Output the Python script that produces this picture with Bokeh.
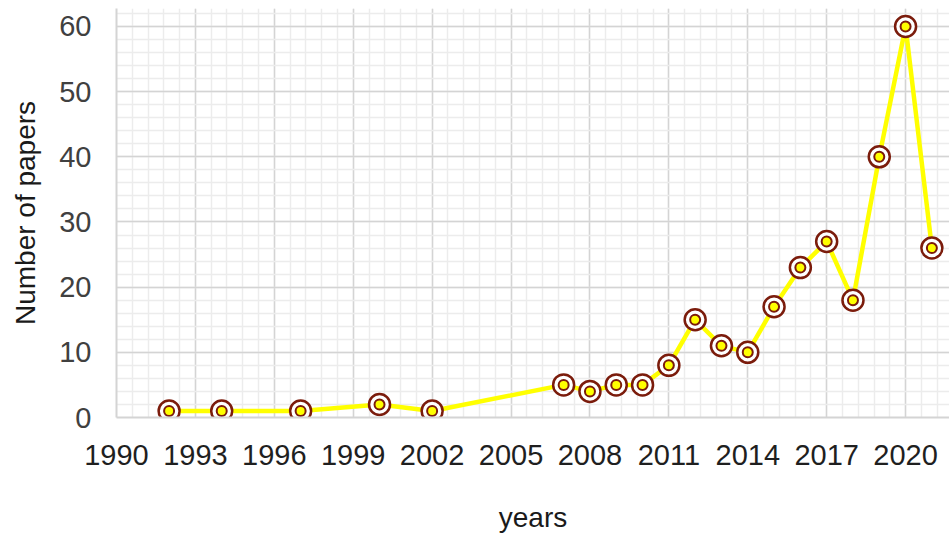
from bokeh.plotting import figure
from bokeh.models import FixedTicker, ColumnDataSource, Range1d
from bokeh.embed import file_html
from bokeh.resources import INLINE

years = [1992, 1994, 1997, 2000, 2002, 2007, 2008, 2009, 2010, 2011,
         2012, 2013, 2014, 2015, 2016, 2017, 2018, 2019, 2020, 2021]
papers = [1, 1, 1, 2, 1, 5, 4, 5, 5, 8,
          15, 11, 10, 17, 23, 27, 18, 40, 60, 26]

x_ticks = [1990, 1993, 1996, 1999, 2002, 2005, 2008, 2011, 2014, 2017, 2020]
y_ticks = [0, 10, 20, 30, 40, 50, 60]
x_minor = [round(1990 + 0.6 * i, 2) for i in range(0, 55)]
y_minor = list(range(0, 64, 2))

x_label = "years"
y_label = "Number of papers"

src = ColumnDataSource(dict(x=years, y=papers))

FONT = "Liberation Sans"
DARK_RED = "#7b1c0c"

p = figure(width=949, height=535, output_backend="svg", toolbar_location=None,
           x_range=Range1d(1990, 2021.67), y_range=Range1d(0, 62.76),
           min_border_left=116, min_border_right=0, min_border_top=8,
           min_border_bottom=118)
p.outline_line_color = None
p.background_fill_color = "white"

p.xaxis.ticker = FixedTicker(ticks=x_ticks, minor_ticks=x_minor)
p.yaxis.ticker = FixedTicker(ticks=y_ticks, minor_ticks=y_minor)

p.xgrid.grid_line_color = "#d4d4d4"
p.ygrid.grid_line_color = "#d4d4d4"
p.xgrid.grid_line_width = 1.5
p.ygrid.grid_line_width = 1.5
p.xgrid.minor_grid_line_color = "#ececec"
p.ygrid.minor_grid_line_color = "#ececec"
p.xgrid.minor_grid_line_width = 1.5
p.ygrid.minor_grid_line_width = 1.5

for ax in (p.xaxis, p.yaxis):
    ax.axis_line_color = "#d4d4d4"
    ax.axis_line_width = 2
    ax.major_tick_line_color = None
    ax.minor_tick_line_color = None
    ax.major_tick_out = 0
    ax.minor_tick_out = 0
    ax.major_label_text_font = FONT
    ax.major_label_text_font_size = "29px"
    ax.axis_label_text_font = FONT
    ax.axis_label_text_font_size = "28px"
    ax.axis_label_text_font_style = "normal"
    ax.axis_label_text_color = "#1a1a1a"

p.xaxis.major_label_text_color = "#1f1f1f"
p.yaxis.major_label_text_color = "#404040"
p.xaxis.major_label_standoff = 27
p.yaxis.major_label_standoff = 25
p.xaxis.axis_label = x_label
p.yaxis.axis_label = y_label
p.xaxis.axis_label_standoff = 34
p.yaxis.axis_label_standoff = 15

p.line("x", "y", source=src, line_color="#ffff00", line_width=4.5)
p.scatter("x", "y", source=src, marker="circle", size=21, fill_color="white",
          line_color=DARK_RED, line_width=2.5)
p.scatter("x", "y", source=src, marker="circle", size=10, fill_color="#ffff00",
          line_color=DARK_RED, line_width=2)

open("out.html", "w").write(file_html(p, INLINE))
